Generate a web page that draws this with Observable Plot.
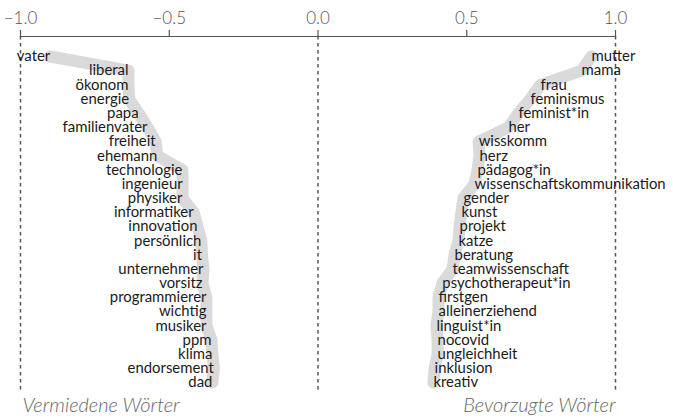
<!DOCTYPE html>
<html>
<head>
<meta charset="utf-8">
<script src="https://cdn.jsdelivr.net/npm/d3@7"></script>
<script src="https://cdn.jsdelivr.net/npm/@observablehq/plot@0.6"></script>
<style>
  html, body { margin: 0; padding: 0; background: #fff; }
  #chart svg { display: block; }
</style>
</head>
<body>
<div id="chart"></div>
<script>
const avoidedWords = ["vater","liberal","ökonom","energie","papa","familienvater","freiheit","ehemann","technologie","ingenieur","physiker","informatiker","innovation","persönlich","it","unternehmer","vorsitz","programmierer","wichtig","musiker","ppm","klima","endorsement","dad"];
const avoidedValues = [-0.90,-0.637,-0.637,-0.635,-0.603,-0.573,-0.546,-0.54,-0.456,-0.455,-0.456,-0.418,-0.405,-0.392,-0.39,-0.385,-0.388,-0.375,-0.375,-0.375,-0.358,-0.355,-0.35,-0.355];

const preferredWords = ["mutter","mama","frau","feminismus","feminist*in","her","wisskomm","herz","pädagog*in","wissenschaftskommunikation","gender","kunst","projekt","katze","beratung","teamwissenschaft","psychotherapeut*in","firstgen","alleinerziehend","linguist*in","nocovid","ungleichheit","inklusion","kreativ"];
const preferredValues = [0.919,0.886,0.748,0.714,0.674,0.640,0.540,0.543,0.536,0.526,0.489,0.482,0.476,0.472,0.459,0.452,0.418,0.405,0.405,0.398,0.402,0.402,0.392,0.388];

const tickValues = [-1, -0.5, 0, 0.5, 1];
const refLines = [-1, 0, 1];
const captionLeft = "Vermiedene Wörter";
const captionRight = "Bevorzugte Wörter";

const avoided = avoidedWords.map((w, i) => ({word: w, value: avoidedValues[i], rank: i}));
const preferred = preferredWords.map((w, i) => ({word: w, value: preferredValues[i], rank: i}));

const font = "Lato, 'Open Sans', sans-serif";

const chart = Plot.plot({
  width: 673,
  height: 419,
  marginLeft: 20,
  marginRight: 58,
  marginTop: 36,
  marginBottom: 29,
  style: {fontFamily: font, background: "#fff", overflow: "visible"},
  x: {domain: [-1, 1]},
  y: {domain: [-1.41, 23.56], reverse: true, axis: null},
  marks: [
    Plot.ruleX(refLines, {stroke: "#555", strokeWidth: 1.5, strokeDasharray: "3.5,3.5"}),
    Plot.frame({anchor: "top", stroke: "#555", strokeWidth: 1.2}),
    Plot.axisX({anchor: "top", ticks: tickValues, tickFormat: d3.format(".1f"), tickSize: 7, tickPadding: 6,
      fontSize: 17, fill: "#555", stroke: "#555", strokeWidth: 1.2, label: null, fontWeight: 300}),
    Plot.line(avoided, {x: "value", y: "rank", stroke: "#dadada", strokeWidth: 12, strokeLinecap: "round", strokeLinejoin: "round"}),
    Plot.line(preferred, {x: "value", y: "rank", stroke: "#dadada", strokeWidth: 12, strokeLinecap: "round", strokeLinejoin: "round"}),
    Plot.text(avoided, {x: "value", y: "rank", text: "word", textAnchor: "end", fontSize: 14.9, fill: "#1a1a1a"}),
    Plot.text(preferred, {x: "value", y: "rank", text: "word", textAnchor: "start", fontSize: 14.9, fill: "#1a1a1a"}),
    Plot.text([captionLeft], {frameAnchor: "bottom-left", text: d => d, dx: 2, dy: 15, lineAnchor: "middle", fontSize: 20, fontStyle: "italic", fontWeight: 300, fill: "#666"}),
    Plot.text([captionRight], {frameAnchor: "bottom-right", text: d => d, dx: 0, dy: 15, lineAnchor: "middle", textAnchor: "end", fontSize: 20, fontStyle: "italic", fontWeight: 300, fill: "#666"})
  ]
});
document.getElementById("chart").appendChild(chart);
</script>
</body>
</html>
